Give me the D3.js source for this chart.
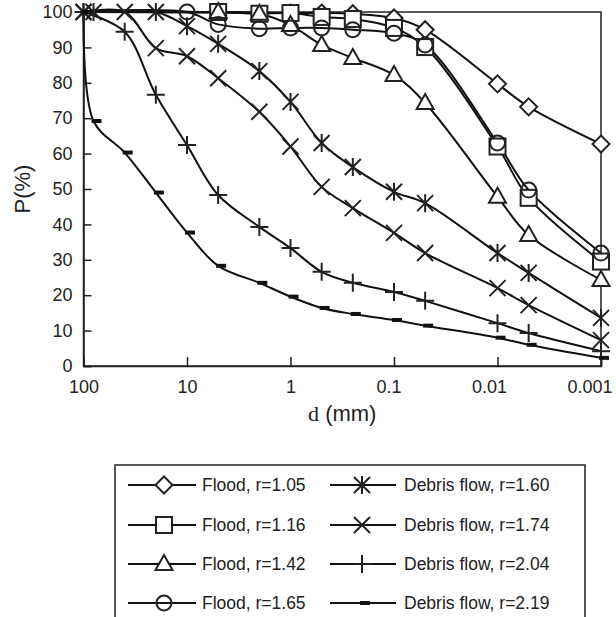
<!DOCTYPE html>
<meta charset="utf-8">
<head>
    <script src="https://d3js.org/d3.v7.min.js"></script>
    <style>
        body {
            margin: 0px;
            padding: 0px;
            background: white;
        }
        text {
            font-family: 'Liberation Sans', Arial, sans-serif;
            fill: #222;
        }
    </style>
</head>

<body>
    <div id="chart"></div>

    <script>
        // sieve sizes (mm) and percent passing, one array per sample
        var sizes = [100, 80, 40, 20, 10, 5, 2, 1, 0.5, 0.25, 0.1, 0.05, 0.01, 0.005, 0.001];

        var flood105 = [100, null, null, null, null, null, null, 99.7, 99.7, 99.5, 98.3, 95, 79.7, 73.2, 62.7];
        var flood116 = [100, null, null, null, null, 100, 99.5, 99.7, 98.6, 98, 95.5, 90.1, 62, 47.5, 29.5];
        var flood142 = [100, null, null, null, null, 100, 99.5, 96.3, 90.7, 87, 82.2, 74.3, 47.8, 37, 24.3];
        var flood165 = [100, null, null, null, 100, 96.5, 95.3, 95.5, 95.5, 95, 94, 90.7, 63, 49.7, 31.9];
        var debris160 = [100, 100, null, 100, 96, 91, 83.3, 74.6, 63, 56.2, 49.2, 46, 31.9, 26.3, 13.6];
        var debris174 = [100, null, 100, 89.8, 87.5, 81.3, 71.8, 62, 50.6, 44.6, 37.6, 31.9, 22, 17.2, 7.3];
        var debris204 = [100, null, 94.4, 76.6, 62.4, 48.3, 39.3, 33.3, 26.6, 23.5, 20.9, 18.4, 12.1, 9.3, 4.2];
        var debris219 = [100, 69.2, 60.3, 49, 37.7, 28.3, 23.5, 19.6, 16.4, 14.7, 13, 11.4, 8, 6, 2.3];

        var xTicks = [100, 10, 1, 0.1, 0.01, 0.001];
        var xTickLabels = ["100", "10", "1", "0.1", "0.01", "0.001"];
        var yTicks = [0, 10, 20, 30, 40, 50, 60, 70, 80, 90, 100];

        // flood curves start at 100% on the 100 mm edge without a marker there
        var series = [
            { name: "Flood, r=1.05", values: flood105, marker: "diamond", skipFirst: true },
            { name: "Flood, r=1.16", values: flood116, marker: "square", skipFirst: true },
            { name: "Flood, r=1.42", values: flood142, marker: "triangle", skipFirst: true },
            { name: "Flood, r=1.65", values: flood165, marker: "circle", skipFirst: true },
            { name: "Debris flow, r=1.60", values: debris160, marker: "asterisk" },
            { name: "Debris flow, r=1.74", values: debris174, marker: "cross" },
            { name: "Debris flow, r=2.04", values: debris204, marker: "plus" },
            { name: "Debris flow, r=2.19", values: debris219, marker: "dash" }
        ];

        var W = 616, H = 617;
        var svg = d3.select("#chart").append("svg")
            .attr("width", W)
            .attr("height", H);

        var x = d3.scaleLog().domain([100, 0.001]).range([83.5, 601]);
        var y = d3.scaleLinear().domain([0, 100]).range([366, 12]);

        //plot frame
        svg.append("rect")
            .attr("x", x(100)).attr("y", y(100))
            .attr("width", x(0.001) - x(100))
            .attr("height", y(0) - y(100))
            .attr("fill", "none")
            .attr("stroke", "#222")
            .attr("stroke-width", 1.5);

        var xAxis = svg.append("g")
            .attr("transform", "translate(0," + y(0) + ")")
            .call(d3.axisBottom(x).tickValues(xTicks)
                .tickFormat(function (d, i) { return xTickLabels[i]; })
                .tickSize(-9).tickPadding(14));

        var yAxis = svg.append("g")
            .attr("transform", "translate(" + x(100) + ",0)")
            .call(d3.axisLeft(y).tickValues(yTicks).tickSize(-8).tickPadding(11));

        [xAxis, yAxis].forEach(function (a) {
            a.select(".domain").attr("stroke", "#222").attr("stroke-width", 1.5);
            a.selectAll(".tick line").attr("stroke", "#222").attr("stroke-width", 1.5);
            a.selectAll(".tick text").style("font-size", "18px").attr("fill", "#222");
        });

        //decimal labels sit a little left of their ticks, like the original
        xAxis.selectAll(".tick text")
            .attr("dx", function (d) { return d < 1 ? (-2.5 - 3 * Math.round(-Math.log10(d))) : 0; });

        //axis titles
        var xt = svg.append("text")
            .attr("x", (x(100) + x(0.001)) / 2)
            .attr("y", 421)
            .attr("text-anchor", "middle")
            .style("font-size", "22px");
        xt.append("tspan").style("font-family", "'Liberation Serif', 'Times New Roman', serif").text("d");
        xt.append("tspan").text(" (mm)");

        svg.append("text")
            .attr("transform", "translate(30," + ((y(0) + y(100)) / 2) + ") rotate(-90)")
            .attr("text-anchor", "middle")
            .style("font-size", "22px")
            .text("P(%)");

        // marker drawing
        function drawMarker(g, type, cx, cy) {
            var s = 8;
            if (type == "diamond") {
                g.append("path")
                    .attr("d", "M" + cx + "," + (cy - 8.5) + "L" + (cx + 8.5) + "," + cy + "L" + cx + "," + (cy + 8.5) + "L" + (cx - 8.5) + "," + cy + "Z")
                    .attr("fill", "white").attr("stroke", "#222").attr("stroke-width", 2);
            } else if (type == "square") {
                g.append("rect")
                    .attr("x", cx - s).attr("y", cy - s).attr("width", 2 * s).attr("height", 2 * s)
                    .attr("fill", "white").attr("stroke", "#222").attr("stroke-width", 2);
            } else if (type == "triangle") {
                g.append("path")
                    .attr("d", "M" + cx + "," + (cy - 9) + "L" + (cx + 8.5) + "," + (cy + 6) + "L" + (cx - 8.5) + "," + (cy + 6) + "Z")
                    .attr("fill", "white").attr("stroke", "#222").attr("stroke-width", 2);
            } else if (type == "circle") {
                g.append("circle")
                    .attr("cx", cx).attr("cy", cy).attr("r", 7.5)
                    .attr("fill", "none").attr("stroke", "#222").attr("stroke-width", 2);
            } else if (type == "cross" || type == "asterisk") {
                g.append("path")
                    .attr("d", "M" + (cx - s) + "," + (cy - s) + "L" + (cx + s) + "," + (cy + s) +
                        "M" + (cx + s) + "," + (cy - s) + "L" + (cx - s) + "," + (cy + s) +
                        (type == "asterisk" ? "M" + cx + "," + (cy - 9) + "L" + cx + "," + (cy + 9) : ""))
                    .attr("fill", "none").attr("stroke", "#222").attr("stroke-width", 2);
            } else if (type == "plus") {
                g.append("path")
                    .attr("d", "M" + (cx - 9) + "," + cy + "L" + (cx + 9) + "," + cy +
                        "M" + cx + "," + (cy - 9) + "L" + cx + "," + (cy + 9))
                    .attr("fill", "none").attr("stroke", "#222").attr("stroke-width", 2);
            } else if (type == "dash") {
                g.append("rect")
                    .attr("x", cx - 2).attr("y", cy - 2).attr("width", 10).attr("height", 4)
                    .attr("fill", "#111");
            }
        }

        var line = d3.line()
            .defined(function (d) { return d.p != null; })
            .x(function (d) { return x(d.d); })
            .y(function (d) { return y(d.p); })
            .curve(d3.curveCatmullRom.alpha(0.5));

        var lineG = svg.append("g");
        var markG = svg.append("g");

        series.forEach(function (s) {
            var pts = sizes.map(function (d, i) { return { d: d, p: s.values[i] }; })
                .filter(function (d) { return d.p != null; });
            lineG.append("path")
                .datum(pts)
                .attr("d", line)
                .attr("fill", "none")
                .attr("stroke", "#111")
                .attr("stroke-width", 2);
        });

        series.forEach(function (s) {
            sizes.forEach(function (d, i) {
                if (s.values[i] == null) return;
                if (s.skipFirst && i == 0) return;
                drawMarker(markG, s.marker, x(d), y(s.values[i]));
            });
        });

        //legend
        var lg = svg.append("g");
        lg.append("rect")
            .attr("x", 115).attr("y", 465)
            .attr("width", 470).attr("height", 180)
            .attr("fill", "white")
            .attr("stroke", "#222")
            .attr("stroke-width", 1.5);

        var rowY = [485, 525, 564, 603];
        var cols = [
            { x1: 128, x2: 196, mx: 164, tx: 202 },
            { x1: 330, x2: 396, mx: 362, tx: 404 }
        ];

        series.forEach(function (s, i) {
            var c = cols[Math.floor(i / 4)];
            var ry = rowY[i % 4];
            lg.append("line")
                .attr("x1", c.x1).attr("x2", c.x2)
                .attr("y1", ry).attr("y2", ry)
                .attr("stroke", "#111").attr("stroke-width", 2);
            drawMarker(lg, s.marker, c.mx, ry);
            lg.append("text")
                .attr("x", c.tx).attr("y", ry)
                .attr("dy", "0.35em")
                .style("font-size", "17.5px")
                .text(s.name);
        });
    </script>

</body>
